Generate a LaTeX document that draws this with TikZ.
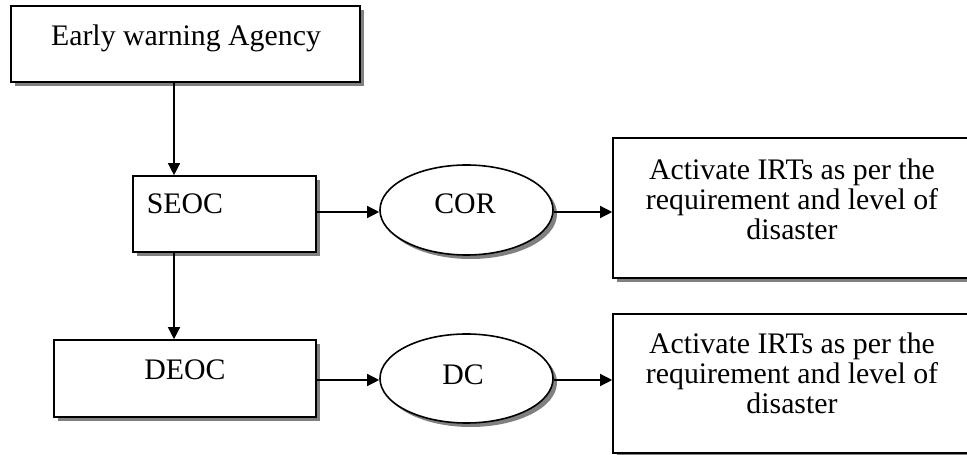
\documentclass[tikz,border=0pt]{standalone}
\usepackage{fontspec}
\setmainfont{Liberation Serif}
\usetikzlibrary{arrows.meta,shapes.geometric,shadows}
\tikzset{
  shad/.style={drop shadow={shadow xshift=4pt,shadow yshift=-4pt,fill=black!50,opacity=1}},
  boxnode/.style={draw,line width=1.6pt,fill=white,rectangle,inner sep=0pt,shad},
  ellnode/.style={draw,line width=1.6pt,fill=white,ellipse,inner sep=0pt,shad},
  txt/.style={inner sep=0pt,font=\fontsize{29.8}{30}\selectfont,align=center},
  arr/.style={line width=1.3pt,-{Triangle[length=12pt,width=12pt]}}
}
\begin{document}
\begin{tikzpicture}[x=1pt,y=1pt]
\useasboundingbox (0,0) rectangle (967,455);
\clip (0,0) rectangle (967,455);
\node[boxnode,minimum width=349pt,minimum height=76pt] (early) at (185.5,411) {};
\node[txt,anchor=base] (earlyt) at (186,409) {Early warning Agency};
\node[boxnode,minimum width=183pt,minimum height=76pt] (seoc) at (224.5,241) {};
\node[txt,anchor=base] (seoct) at (185,241) {SEOC};
\node[ellnode,minimum width=173pt,minimum height=90pt] (cor) at (466.5,245) {};
\node[txt,anchor=base] (cort) at (465,241) {COR};
\node[boxnode,minimum width=400pt,minimum height=140pt] (irt1) at (813,247) {};
\node[txt] (irt1t) at (792,256) {Activate IRTs as per the\\requirement and level of\\disaster};
\node[boxnode,minimum width=262pt,minimum height=77pt] (deoc) at (185,76.5) {};
\node[txt,anchor=base] (deoct) at (185,75) {DEOC};
\node[ellnode,minimum width=173pt,minimum height=89pt] (dc) at (466.5,76.5) {};
\node[txt,anchor=base] (dct) at (463,70) {DC};
\node[boxnode,minimum width=400pt,minimum height=139pt] (irt2) at (813,71.5) {};
\node[txt] (irt2t) at (792,82) {Activate IRTs as per the\\requirement and level of\\disaster};
\draw[arr] (early.south -| 174,0) -- (seoc.north -| 174,0);
\draw[arr] (seoc.south -| 174,0) -- (deoc.north -| 174,0);
\draw[arr] (seoc.east |- 0,243) -- (cor.west |- 0,243);
\draw[arr] (cor.east |- 0,243) -- (irt1.west |- 0,243);
\draw[arr] (deoc.east |- 0,75) -- (dc.west |- 0,75);
\draw[arr] (dc.east |- 0,75) -- (irt2.west |- 0,75);
\end{tikzpicture}
\end{document}
